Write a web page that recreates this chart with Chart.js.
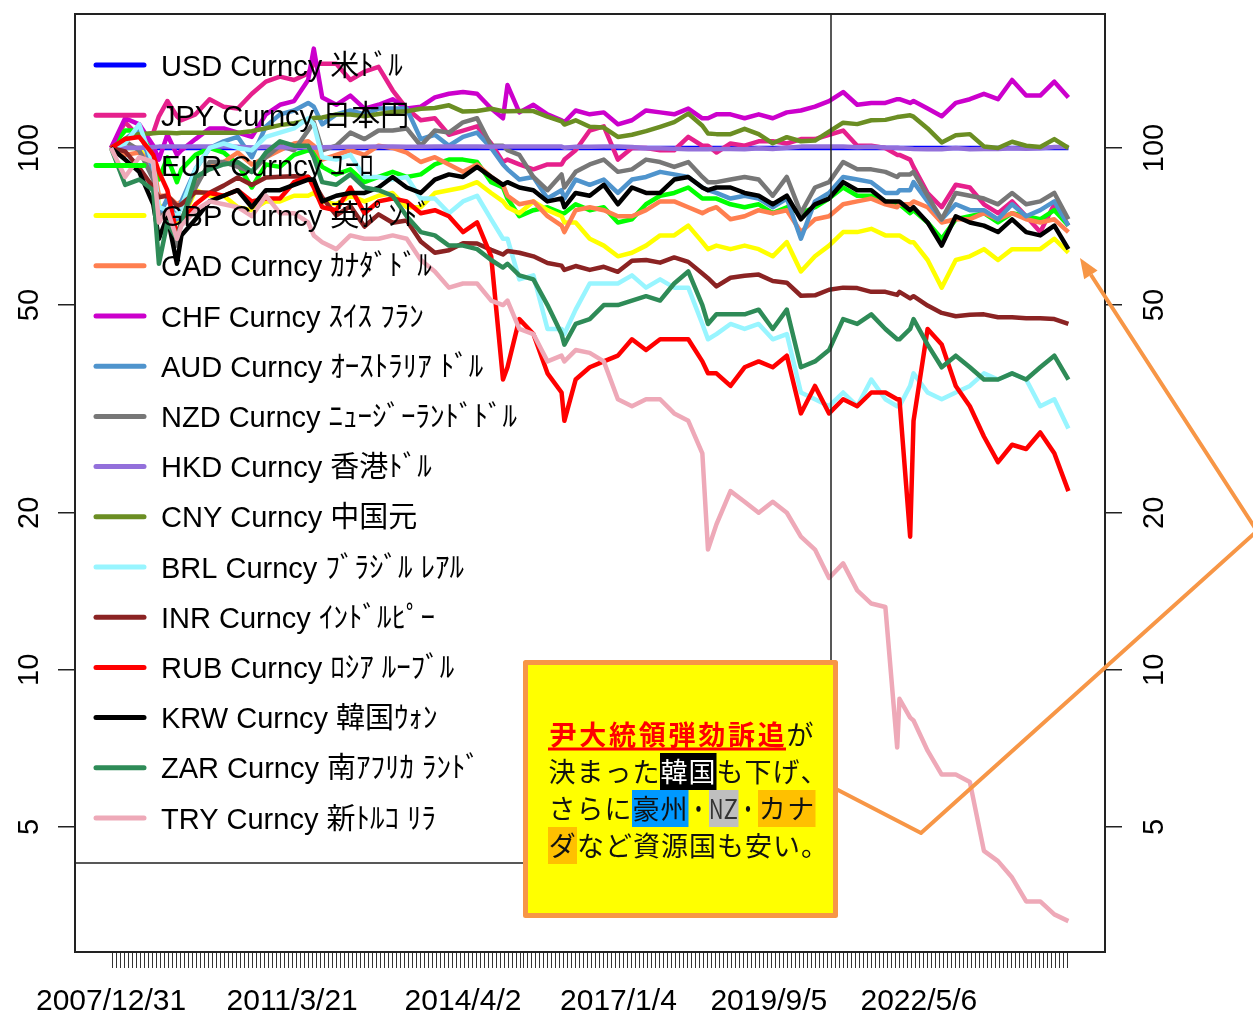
<!DOCTYPE html>
<html lang="ja">
<head>
<meta charset="utf-8">
<title>主要通貨 対米ドル指数</title>
<script src="https://cdn.jsdelivr.net/npm/chart.js@4.4.1/dist/chart.umd.min.js"></script>
<style>
  html, body { margin: 0; padding: 0; background: #fff; }
  #wrap { width: 1253px; height: 1012px; }
</style>
</head>
<body>
<div id="wrap"><canvas id="fx-chart" width="1253" height="1012"></canvas></div>
<script>
// 日付(年の小数表記) 2007/12/31 = 100 の指数
const dates = [
  2008.00, 2008.25, 2008.50, 2008.75, 2008.85, 2009.00, 2009.17, 2009.25, 2009.50, 2009.75,
  2010.00, 2010.25, 2010.50, 2010.75, 2011.00, 2011.25, 2011.50, 2011.60, 2011.75,
  2012.00, 2012.25, 2012.50, 2012.75, 2013.00, 2013.25, 2013.50, 2013.75,
  2014.00, 2014.25, 2014.50, 2014.75, 2014.96, 2015.04, 2015.25, 2015.50, 2015.75,
  2016.00, 2016.05, 2016.25, 2016.50, 2016.75, 2017.00, 2017.25, 2017.50, 2017.75,
  2018.00, 2018.25, 2018.50, 2018.60, 2018.75, 2019.00, 2019.25, 2019.50, 2019.75,
  2020.00, 2020.25, 2020.50, 2020.75, 2021.00, 2021.25, 2021.50, 2021.75, 2021.96,
  2022.00, 2022.19, 2022.25, 2022.50, 2022.75, 2023.00, 2023.25, 2023.50, 2023.75,
  2024.00, 2024.25, 2024.50, 2024.75, 2025.00
];

const usd = [
  100, 100, 100, 100, 100, 100, 100, 100, 100, 100,
  100, 100, 100, 100, 100, 100, 100, 100, 100,
  100, 100, 100, 100, 100, 100, 100, 100,
  100, 100, 100, 100, 100, 100, 100, 100, 100,
  100, 100, 100, 100, 100, 100, 100, 100, 100,
  100, 100, 100, 100, 100, 100, 100, 100, 100,
  100, 100, 100, 100, 100, 100, 100, 100, 100,
  100, 100, 100, 100, 100, 100, 100, 100, 100,
  100, 100, 100, 100, 100
];
const jpy = [
  100, 112, 105, 107, 115, 123, 115, 113, 116, 124,
  120, 119, 127, 134, 137, 135, 139, 145, 145,
  145, 135, 140, 143, 129, 119, 113, 114,
  106, 108, 110, 102, 94, 95, 93, 91, 93,
  93, 95, 99, 108, 110, 95, 100, 100, 99,
  99, 105, 101, 101, 98, 102, 101, 103, 103,
  102, 104, 104, 106, 108, 101, 101, 100, 97,
  97, 95, 92, 82, 77, 85, 84, 78, 75,
  79, 74, 69, 78, 71
];
const eur = [
  100, 108, 108, 97, 87, 96, 86, 91, 97, 100,
  98, 93, 84, 93, 92, 97, 99, 98, 92,
  89, 91, 86, 88, 90, 88, 89, 93,
  95, 95, 94, 86, 84, 80, 74, 76, 77,
  75, 75, 78, 76, 77, 72, 73, 78, 81,
  82, 84, 80, 80, 80, 78, 77, 78, 75,
  77, 75, 77, 80, 84, 81, 81, 79, 78,
  78, 75, 76, 72, 67, 73, 74, 75, 72,
  75, 74, 73, 76, 71
];
const gbp = [
  100, 100, 100, 90, 78, 74, 72, 72, 83, 81,
  81, 77, 76, 79, 79, 81, 81, 82, 79,
  78, 81, 79, 81, 82, 77, 77, 82,
  83, 84, 86, 82, 79, 77, 75, 79, 76,
  74, 72, 72, 67, 65, 62, 63, 65, 68,
  68, 71, 66, 64, 65, 64, 65, 64, 62,
  66, 58, 62, 65, 69, 69, 70, 68, 68,
  68, 66, 66, 61, 54, 61, 62, 64, 61,
  64, 64, 64, 67, 63
];
const cad = [
  100, 97, 98, 93, 81, 81, 78, 79, 85, 93,
  94, 98, 93, 96, 99, 102, 103, 101, 95,
  97, 99, 97, 101, 100, 98, 94, 96,
  93, 90, 93, 88, 85, 81, 78, 79, 74,
  71, 69, 76, 77, 76, 74, 74, 76, 79,
  79, 77, 75, 76, 77, 73, 74, 76, 75,
  76, 69, 73, 74, 78, 79, 80, 78, 77,
  78, 78, 79, 77, 72, 73, 73, 75, 73,
  75, 73, 72, 73, 69
];
const chf = [
  100, 114, 111, 101, 95, 106, 97, 99, 104, 109,
  109, 107, 105, 116, 121, 123, 135, 155, 125,
  121, 126, 119, 121, 124, 119, 120, 125,
  127, 128, 127, 119, 114, 132, 117, 121, 116,
  113, 112, 118, 116, 117, 111, 113, 118, 117,
  116, 119, 114, 114, 116, 116, 114, 116, 114,
  117, 118, 120, 123, 128, 121, 122, 122, 124,
  124, 122, 123, 119, 115, 122, 124, 127, 124,
  135, 126, 126, 134, 125
];
const aud = [
  100, 104, 109, 90, 74, 80, 73, 79, 91, 100,
  103, 105, 96, 110, 116, 118, 122, 120, 111,
  116, 118, 116, 119, 119, 119, 104, 106,
  101, 105, 107, 100, 93, 91, 87, 88, 80,
  83, 80, 87, 85, 87, 82, 87, 88, 90,
  89, 88, 84, 83, 82, 80, 81, 80, 77,
  80, 67, 79, 82, 88, 87, 86, 82, 82,
  83, 83, 86, 79, 73, 78, 76, 76, 73,
  78, 74, 76, 79, 71
];
const nzd = [
  100, 103, 99, 87, 74, 75, 65, 73, 84, 94,
  94, 92, 90, 96, 101, 99, 108, 112, 99,
  101, 107, 104, 108, 108, 109, 101, 108,
  107, 112, 114, 101, 101, 99, 97, 88, 83,
  89, 84, 90, 93, 95, 90, 91, 95, 94,
  92, 94, 88, 86, 86, 87, 88, 87, 81,
  88, 75, 84, 86, 94, 91, 91, 90, 88,
  89, 89, 90, 81, 73, 82, 81, 80, 78,
  82, 78, 79, 82, 73
];
const hkd = [
  100, 100.2, 100, 100.4, 100.6, 100.6, 100.6, 100.6, 100.6, 100.6,
  100.6, 100.5, 100.2, 100.5, 100.3, 100.3, 100.3, 100.1, 100.3,
  100.4, 100.5, 100.5, 100.6, 100.6, 100.5, 100.5, 100.6,
  100.6, 100.6, 100.6, 100.5, 100.6, 100.6, 100.6, 100.6, 100.6,
  100.6, 100.1, 100.5, 100.5, 100.6, 100.6, 100.4, 99.9, 99.9,
  99.7, 99.4, 99.4, 99.4, 99.6, 99.6, 99.4, 99.9, 99.5,
  100.1, 100.6, 100.6, 100.6, 100.6, 100.3, 100.5, 100.2, 100.1,
  100, 99.7, 99.6, 99.4, 99.4, 100, 99.4, 99.6, 99.6,
  99.9, 99.7, 99.9, 100.4, 100.4
];
const cny = [
  100, 104.1, 106.4, 106.7, 106.9, 106.9, 106.7, 106.9, 106.9, 106.9,
  106.9, 106.9, 107.7, 109.1, 110.6, 111.5, 113, 114.2, 114.4,
  115.9, 115.9, 115, 116.2, 117.2, 117.6, 118.9, 119.3,
  120.7, 117.4, 117.7, 118.9, 117.6, 117.6, 117.7, 117.7, 114.8,
  112.5, 110.9, 113, 109.8, 109.4, 105, 106, 107.7, 109.8,
  112.1, 116.4, 110.3, 106.6, 106.3, 106.3, 108.8, 106.3, 102.1,
  104.9, 103, 103.3, 107.5, 111.8, 111.1, 113, 113.2, 114.6,
  114.8, 115.5, 114.8, 109, 102.5, 105.8, 106.3, 100.7, 100,
  102.8, 101, 100.4, 104, 100
];
const brl = [
  100, 102, 111, 93, 77, 76, 74, 77, 91, 100,
  102, 100, 99, 105, 107, 109, 114, 111, 96,
  95, 97, 88, 88, 87, 88, 80, 80,
  75, 79, 81, 73, 67, 67, 56, 57, 45,
  45, 44, 49, 55, 55, 55, 57, 54, 56,
  54, 54, 46, 43, 44, 46, 45, 46, 43,
  44, 34, 33, 32, 34, 32, 36, 33, 32,
  32, 35, 37, 34, 33, 34, 35, 37, 36,
  37, 36, 32, 33, 29
];
const inr = [
  100, 98.5, 91.6, 84, 80.4, 81.1, 77.4, 78, 82.3, 82.1,
  84.7, 87.8, 84.9, 87.8, 88.1, 88.3, 88.1, 85.7, 80.4,
  74.3, 77.4, 70.7, 74.6, 71.9, 72.6, 66.2, 63,
  63.7, 65.7, 65.6, 63.8, 62.5, 63.5, 63, 62, 60.2,
  59.5, 58.4, 59.4, 58.4, 59.2, 57.9, 60.8, 61, 60.3,
  61.7, 60.5, 57.5, 56.3, 54.3, 56.4, 56.9, 57.2, 55.6,
  55.2, 52.1, 52.2, 53.5, 54, 53.9, 53, 53, 52.3,
  53, 51.5, 52, 49.9, 48.3, 47.6, 47.9, 48, 47.4,
  47.4, 47.2, 47.2, 47, 46
];
const rub = [
  100, 104, 105, 97, 90, 83, 68, 72, 78, 82,
  81, 83, 79, 80, 80, 86, 88, 84, 77,
  76, 84, 75, 79, 80, 79, 75, 76,
  74, 69, 72, 62, 36, 38, 47, 44, 37,
  34, 30, 36, 38, 39, 40, 43, 41, 43,
  43, 43, 39, 37, 37, 35, 38, 39, 38,
  40, 31, 35, 31, 33, 32, 34, 34, 33,
  33, 18, 30, 45, 42, 35, 32, 28, 25,
  27, 26.5, 28.5, 26, 22
];
const krw = [
  100, 95, 90, 78, 67, 74, 60, 68, 73, 79,
  81, 83, 77, 83, 83, 85, 87, 87, 79,
  81, 82, 82, 84, 88, 84, 82, 87,
  89, 88, 92, 88, 85, 86, 84, 83, 79,
  80, 77, 82, 81, 85, 78, 84, 82, 82,
  87, 88, 84, 83, 84, 84, 82, 81, 78,
  81, 73, 78, 80, 86, 83, 83, 79, 79,
  79, 76, 77, 72, 65, 74, 72, 71, 69,
  73, 69, 68, 71, 64
];
const zar = [
  100, 85, 87, 83, 60, 72, 67, 72, 88, 91,
  93, 94, 90, 98, 103, 101, 101, 96, 86,
  85, 89, 84, 83, 81, 74, 69, 68,
  65, 65, 64, 61, 59, 60, 57, 56, 50,
  44, 42, 46, 47, 50, 50, 51, 52, 51,
  55, 58, 50, 46, 48, 48, 48, 49, 45,
  49, 38, 39, 41, 47, 46, 48, 45, 43,
  43, 45, 47, 42, 38, 40, 38, 36, 36,
  37, 36, 38, 40, 36
];
const tryCur = [
  100, 88, 96, 94, 72, 76, 67, 71, 76, 79,
  78, 77, 74, 81, 75, 75, 72, 68, 66,
  64, 68, 67, 67, 68, 67, 61, 58,
  54, 55, 55, 51, 50, 51, 45, 44, 39,
  40, 39, 41, 40.5, 39, 33, 32, 33, 33,
  31, 30, 26, 17, 19, 22, 21, 20, 21,
  20, 18, 17, 15, 16, 14.2, 13.4, 13.2, 7.1,
  8.8, 8.1, 8.0, 7.0, 6.3, 6.3, 6.1, 4.5, 4.3,
  4.0, 3.6, 3.6, 3.4, 3.3
];

const seriesNames = [
  'USD Curncy 米ﾄﾞﾙ', 'JPY Curncy 日本円', 'EUR Curncy ﾕｰﾛ', 'GBP Curncy 英ﾎﾟﾝﾄﾞ',
  'CAD Curncy ｶﾅﾀﾞﾄﾞﾙ', 'CHF Curncy ｽｲｽ ﾌﾗﾝ', 'AUD Curncy ｵｰｽﾄﾗﾘｱ ﾄﾞﾙ', 'NZD Curncy ﾆｭｰｼﾞｰﾗﾝﾄﾞﾄﾞﾙ',
  'HKD Curncy 香港ﾄﾞﾙ', 'CNY Curncy 中国元', 'BRL Curncy ﾌﾞﾗｼﾞﾙ ﾚｱﾙ', 'INR Curncy ｲﾝﾄﾞﾙﾋﾟｰ',
  'RUB Curncy ﾛｼｱ ﾙｰﾌﾞﾙ', 'KRW Curncy 韓国ｳｫﾝ', 'ZAR Curncy 南ｱﾌﾘｶ ﾗﾝﾄﾞ', 'TRY Curncy 新ﾄﾙｺ ﾘﾗ'
];
const seriesColors = [
  '#0000FF', '#E6208C', '#00FF00', '#FFFF00', '#FF7F50', '#CC00CC', '#4F94CD', '#777777',
  '#9370DB', '#6B8E23', '#98F5FF', '#8B2323', '#FF0000', '#000000', '#2E8B57', '#EEA9B8'
];
const seriesValues = [usd, jpy, eur, gbp, cad, chf, aud, nzd, hkd, cny, brl, inr, rub, krw, zar, tryCur];

// 軸の目盛
const yTicks = [5, 10, 20, 50, 100];
const xLabelDates = [2008.0, 2011.216, 2014.25, 2017.01, 2019.68, 2022.345];
const xLabels = ['2007/12/31', '2011/3/21', '2014/4/2', '2017/1/4', '2019/9/5', '2022/5/6'];

const LATIN = '"Liberation Sans", Arial, "Noto Sans CJK JP", sans-serif';
const JP = '"Noto Sans CJK JP", sans-serif';

// Rのplot風の枠・凡例・軸ラベル
const rPlotLook = {
  id: 'rPlotLook',
  afterDatasetsDraw(chart) {
    const {ctx, chartArea: a} = chart;
    ctx.save();
    ctx.strokeStyle = '#222';
    ctx.lineWidth = 2;
    ctx.strokeRect(a.left, a.top, a.right - a.left, a.bottom - a.top);

    // 凡例の枠(左と上はプロット枠に重なる)
    ctx.lineWidth = 1.5;
    ctx.beginPath();
    ctx.moveTo(a.left, 863);
    ctx.lineTo(831, 863);
    ctx.lineTo(831, a.top);
    ctx.stroke();

    ctx.font = '29px ' + LATIN;
    ctx.textAlign = 'left';
    ctx.textBaseline = 'alphabetic';
    ctx.lineCap = 'round';
    seriesNames.forEach((name, i) => {
      const y = 65 + i * 50.2;
      ctx.strokeStyle = seriesColors[i];
      ctx.lineWidth = 5;
      ctx.beginPath();
      ctx.moveTo(96, y);
      ctx.lineTo(144, y);
      ctx.stroke();
      ctx.fillStyle = '#000';
      ctx.fillText(name, 161, y + 10.5);
    });
    ctx.restore();
  },
  afterDraw(chart) {
    const {ctx, scales} = chart;
    ctx.save();
    ctx.fillStyle = '#000';
    ctx.font = '29px ' + LATIN;
    ctx.textAlign = 'center';
    ctx.textBaseline = 'alphabetic';
    for (const v of yTicks) {
      const y = scales.y.getPixelForValue(v);
      for (const x of [38, 1163]) {
        ctx.save();
        ctx.translate(x, y);
        ctx.rotate(-Math.PI / 2);
        ctx.fillText(String(v), 0, 0);
        ctx.restore();
      }
    }
    ctx.font = '30px ' + LATIN;
    xLabels.forEach((lab, i) => {
      ctx.fillText(lab, scales.x.getPixelForValue(xLabelDates[i]), 1010);
    });
    ctx.restore();
  }
};

// 吹き出し(黄色い枠と矢印)
const callout = {
  id: 'callout',
  afterDraw(chart) {
    const ctx = chart.ctx;
    ctx.save();
    const orange = '#F79646';
    ctx.strokeStyle = orange;
    ctx.fillStyle = orange;
    ctx.lineWidth = 4;
    ctx.lineJoin = 'round';

    const tip = {x: 1080, y: 258};
    const bend = {x: 1257, y: 531};
    const dx = tip.x - bend.x, dy = tip.y - bend.y;
    const len = Math.hypot(dx, dy);
    const ux = dx / len, uy = dy / len;
    const base = {x: tip.x - ux * 20, y: tip.y - uy * 20};

    ctx.beginPath();
    ctx.moveTo(836, 789);
    ctx.lineTo(921, 833);
    ctx.lineTo(bend.x, bend.y);
    ctx.lineTo(base.x, base.y);
    ctx.stroke();
    ctx.beginPath();
    ctx.moveTo(tip.x, tip.y);
    ctx.lineTo(base.x - uy * 8, base.y + ux * 8);
    ctx.lineTo(base.x + uy * 8, base.y - ux * 8);
    ctx.closePath();
    ctx.fill();

    ctx.fillStyle = '#FFFF00';
    ctx.fillRect(525, 662, 311, 254);
    ctx.lineWidth = 5;
    ctx.strokeRect(525.5, 662.5, 310, 253);

    const lines = [
      {cy: 734.5, parts: [
        {t: '尹大統領弾劾訴追', cell: 29.75, color: '#FF0000', bold: true},
        {t: 'が', cell: 28}
      ]},
      {cy: 771.5, parts: [
        {t: '決まった', cell: 28},
        {t: '韓国', cell: 28, color: '#FFFFFF', bg: '#000000'},
        {t: 'も下げ、', cell: 28}
      ]},
      {cy: 808.5, parts: [
        {t: 'さらに', cell: 28},
        {t: '豪州', cell: 28, bg: '#0099FF'},
        {t: '・', cell: 21},
        {t: 'NZ', cell: 14.5, bg: '#BFBFBF', color: '#333'},
        {t: '・', cell: 20},
        {t: 'カナ', cell: 28.5, bg: '#FFC000'}
      ]},
      {cy: 845.5, parts: [
        {t: 'ダ', cell: 28.5, bg: '#FFC000'},
        {t: 'など資源国も安い。', cell: 28}
      ]}
    ];

    ctx.textAlign = 'center';
    ctx.textBaseline = 'middle';
    for (const line of lines) {
      let x = 548;
      for (const p of line.parts) {
        ctx.font = (p.bold ? 'bold ' : '') + '27px ' + JP;
        for (const ch of p.t) {
          if (p.bg) {
            ctx.fillStyle = p.bg;
            ctx.fillRect(x, line.cy - 18.5, p.cell + 0.5, 37);
          }
          ctx.fillStyle = p.color || '#111';
          const w = ctx.measureText(ch).width;
          if (w > p.cell) {
            ctx.save();
            ctx.translate(x + p.cell / 2, line.cy);
            ctx.scale(p.cell / w, 1);
            ctx.fillText(ch, 0, 0);
            ctx.restore();
          } else {
            ctx.fillText(ch, x + p.cell / 2, line.cy);
          }
          x += p.cell;
        }
      }
    }
    // 赤字の下線
    ctx.strokeStyle = '#FF0000';
    ctx.lineWidth = 3;
    ctx.beginPath();
    ctx.moveTo(548, 749);
    ctx.lineTo(786, 749);
    ctx.stroke();
    ctx.restore();
  }
};

const datasets = seriesValues.map((values, i) => ({
  label: seriesNames[i],
  data: dates.map((d, j) => ({x: d, y: values[j]})),
  borderColor: seriesColors[i],
  backgroundColor: seriesColors[i],
  borderWidth: 4.5,
  borderJoinStyle: 'round',
  pointRadius: 0,
  tension: 0,
  order: seriesValues.length - i
}));

const logAxis = (position, width) => ({
  type: 'logarithmic',
  position: position,
  min: 2.88,
  max: 180.6,
  bounds: 'data',
  border: {display: false},
  grid: {drawOnChartArea: false, drawTicks: true, tickLength: 17, color: '#222', lineWidth: 1.5},
  ticks: {display: false},
  afterBuildTicks: s => { s.ticks = yTicks.map(v => ({value: v})); },
  afterFit: s => { s.width = width; }
});

new Chart(document.getElementById('fx-chart'), {
  type: 'line',
  data: {datasets: datasets},
  options: {
    responsive: false,
    animation: false,
    devicePixelRatio: 1,
    layout: {padding: {top: 14, left: 0, right: 0, bottom: 0}},
    plugins: {legend: {display: false}, tooltip: {enabled: false}},
    scales: {
      x: {
        type: 'linear',
        min: 2007.36,
        max: 2025.65,
        bounds: 'data',
        border: {display: false},
        grid: {drawOnChartArea: false, drawTicks: true, tickLength: 16, color: '#333', lineWidth: 1},
        ticks: {display: false},
        afterBuildTicks: s => {
          const t = [];
          for (let v = 2008.02; v <= 2025.0; v += 0.071) t.push({value: v});
          s.ticks = t;
        },
        afterFit: s => { s.height = 60; }
      },
      y: logAxis('left', 75),
      y2: logAxis('right', 148)
    }
  },
  plugins: [rPlotLook, callout]
});
</script>
</body>
</html>
